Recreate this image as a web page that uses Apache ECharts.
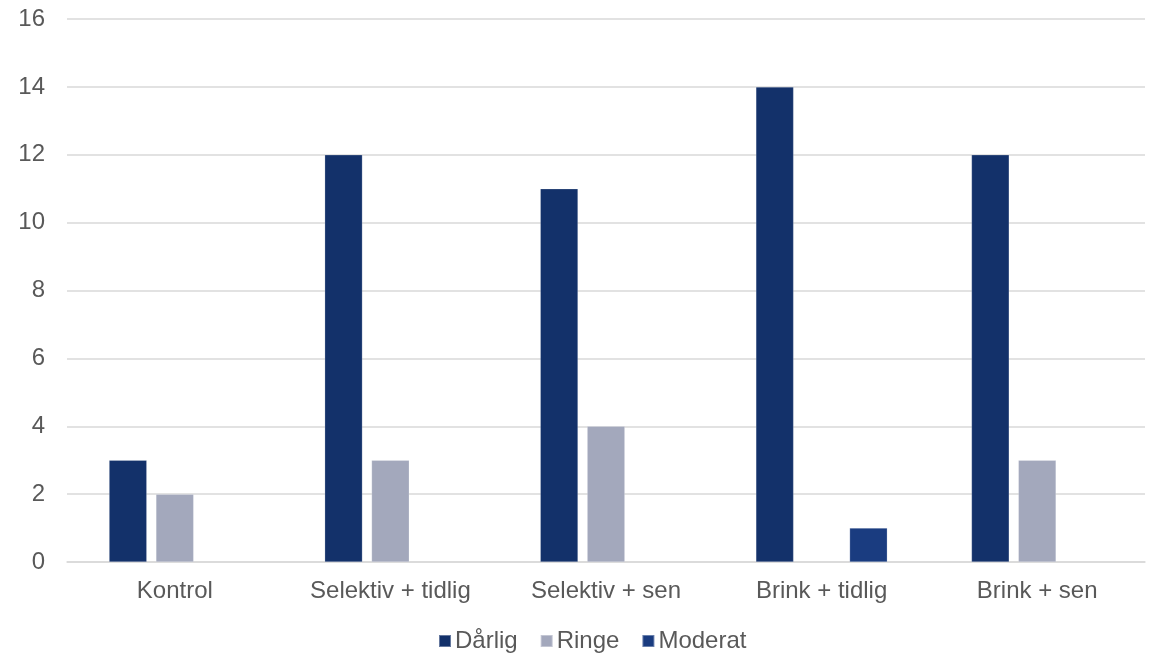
<!DOCTYPE html>
<html>
<head>
<meta charset="utf-8">
<script src="https://cdn.jsdelivr.net/npm/echarts@6/dist/echarts.min.js"></script>
<style>
  html, body { margin: 0; padding: 0; background: #ffffff; }
  #chart { width: 1149px; height: 654px; }
</style>
</head>
<body>
<div id="chart"></div>
<script>
// Treatment groups along the x axis
const categories = ['Kontrol', 'Selektiv + tidlig', 'Selektiv + sen', 'Brink + tidlig', 'Brink + sen'];

// Counts per condition class
const darlig = [3, 12, 11, 14, 12];
const ringe = [2, 3, 4, null, 3];
const moderat = [null, null, null, 1, null];

const yTicks = { min: 0, max: 16, interval: 2 };

const font = 'Liberation Sans, Arial, sans-serif';
const textColor = '#595959';
const fontSize = 24;

const chart = echarts.init(document.getElementById('chart'), null, { renderer: 'canvas' });

function barSeries(name, data, color) {
  return {
    name: name,
    type: 'bar',
    data: data,
    barGap: '24%',
    barCategoryGap: '39%',
    itemStyle: { color: color, borderColor: 'rgba(255,255,255,0.35)', borderWidth: 0.6 },
    emphasis: { disabled: true }
  };
}

chart.setOption({
  animation: false,
  backgroundColor: '#ffffff',
  textStyle: { fontFamily: font },
  grid: { left: 67, right: 4, top: 19, bottom: 92, containLabel: false },
  legend: {
    top: 624,
    left: 433,
    itemWidth: 12,
    itemHeight: 12,
    itemGap: 22,
    icon: 'rect',
    textStyle: { color: textColor, fontSize: fontSize, fontFamily: font, padding: [0, 0, 0, -1] },
    data: ['Dårlig', 'Ringe', 'Moderat']
  },
  xAxis: {
    type: 'category',
    data: categories,
    axisLine: { show: true, lineStyle: { color: '#d9d9d9', width: 1.5 } },
    axisTick: { show: false },
    axisLabel: { color: textColor, fontSize: fontSize, fontFamily: font, margin: 17 }
  },
  yAxis: {
    type: 'value',
    min: yTicks.min,
    max: yTicks.max,
    interval: yTicks.interval,
    axisLine: { show: false },
    axisTick: { show: false },
    splitLine: { lineStyle: { color: '#d9d9d9', width: 1.5 } },
    axisLabel: { color: textColor, fontSize: fontSize, fontFamily: font, margin: 22 }
  },
  series: [
    barSeries('Dårlig', darlig, '#13316a'),
    barSeries('Ringe', ringe, '#a3a8bc'),
    barSeries('Moderat', moderat, '#1a3c80')
  ]
});
</script>
</body>
</html>
